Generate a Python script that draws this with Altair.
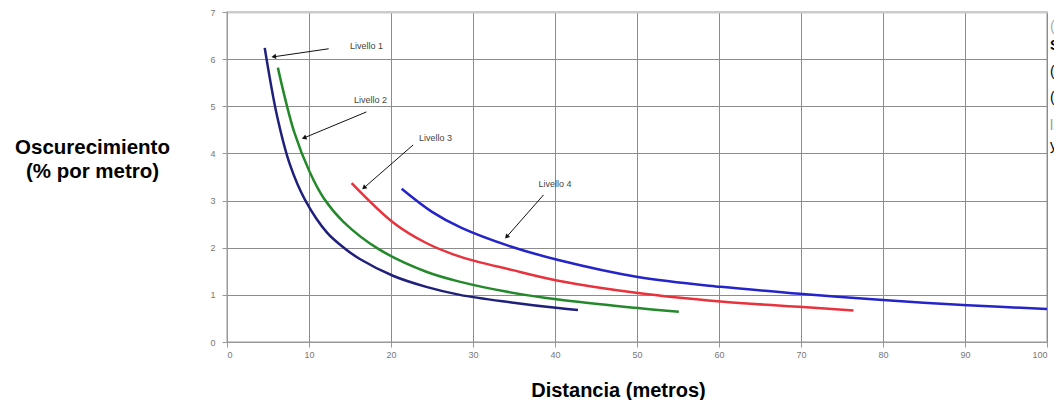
import math
import altair as alt
import pandas as pd

# ---- data ----
x_ticks = [0, 10, 20, 30, 40, 50, 60, 70, 80, 90, 100]
y_ticks = [0, 1, 2, 3, 4, 5, 6, 7]

series = ["Livello 1", "Livello 2", "Livello 3", "Livello 4"]
colors = ["#1f1f7c", "#23892a", "#e8323c", "#2424c8"]

l1_x = [4.6, 6.1, 7.7, 9.5, 12.2, 14.4, 16.2, 20.3, 24.3, 28.4, 34.7, 40.4, 42.8]
l1_y = [6.24, 4.8, 3.75, 3.02, 2.32, 1.98, 1.76, 1.4, 1.17, 1.0, 0.84, 0.72, 0.68]

l2_x = [6.2, 8.2, 10.1, 11.8, 14.2, 18.5, 24.3, 28.6, 34.0, 40.4, 50.1, 55.1]
l2_y = [5.82, 4.45, 3.6, 3.05, 2.55, 1.97, 1.49, 1.27, 1.07, 0.9, 0.72, 0.64]

l3_x = [15.2, 20.3, 24.3, 28.6, 34.7, 40.4, 50.1, 60.2, 70.2, 76.4]
l3_y = [3.37, 2.53, 2.1, 1.8, 1.53, 1.3, 1.04, 0.86, 0.74, 0.67]

l4_x = [21.3, 25.0, 28.6, 34.7, 40.4, 50.1, 60.2, 70.2, 80.0, 90.3, 100.0]
l4_y = [3.25, 2.76, 2.42, 2.02, 1.74, 1.38, 1.17, 1.02, 0.89, 0.78, 0.70]

label_x = [15.0, 15.5, 23.4, 38.0]
label_y = [6.28, 5.14, 4.33, 3.35]
tail_x = [12.4, 17.0, 22.7, 38.6]
tail_y = [6.22, 4.88, 4.18, 3.12]
head_x = [5.7, 9.4, 16.7, 34.1]
head_y = [6.05, 4.33, 3.27, 2.23]

# ---- tables ----
rows = []
for name, xs_, ys_ in zip(series, [l1_x, l2_x, l3_x, l4_x], [l1_y, l2_y, l3_y, l4_y]):
    for i, (a, b) in enumerate(zip(xs_, ys_)):
        rows.append({"serie": name, "x": a, "y": b, "i": i})
df = pd.DataFrame(rows)

W, H = 820, 330
kx = W / 100.0
ky = H / 7.0
angles = []
for tx, ty, hx, hy in zip(tail_x, tail_y, head_x, head_y):
    a = math.degrees(math.atan2((hx - tx) * kx, (hy - ty) * ky)) % 360
    angles.append(a)

ann = pd.DataFrame({
    "label": series, "lx": label_x, "ly": label_y,
    "tx": tail_x, "ty": tail_y, "hx": head_x, "hy": head_y, "ang": angles,
})

FONT = "Liberation Sans"
xs = alt.Scale(domain=[0, 100], nice=False)
ys = alt.Scale(domain=[0, 7], nice=False)

x_axis = alt.Axis(
    values=x_ticks, title="Distancia (metros)", titleFont=FONT, titleFontSize=20,
    titleFontWeight="bold", titleColor="#000", titleX=391, titleY=54,
    titleAlign="center", titleBaseline="alphabetic",
    labelFont=FONT, labelFontSize=9, labelColor="#777", labelPadding=3,
    tickSize=5, tickColor="#999", domainColor="#999",
    gridColor="#8c8c8c", gridWidth=1,
)
y_axis = alt.Axis(
    values=y_ticks, title=["Oscurecimiento", "(% por metro)"], titleFont=FONT,
    titleFontSize=20.5, titleFontWeight="bold", titleColor="#000", titleAngle=0,
    titleAlign="center", titleBaseline="top", titleX=-135, titleY=125,
    titleLineHeight=24,
    labelFont=FONT, labelFontSize=9, labelColor="#777", labelPadding=7,
    tickSize=5, tickColor="#999", domainColor="#999",
    gridColor={"condition": {"test": "datum.value >= 7", "value": "#cccccc"}, "value": "#8c8c8c"},
    gridWidth={"condition": {"test": "datum.value >= 7", "value": 2}, "value": 1},
)

lines = alt.Chart(df).mark_line(strokeWidth=2.5, interpolate="catmull-rom").encode(
    x=alt.X("x:Q", scale=xs, axis=x_axis),
    y=alt.Y("y:Q", scale=ys, axis=y_axis),
    color=alt.Color("serie:N", scale=alt.Scale(domain=series, range=colors), legend=None),
    order="i:Q",
)

base = alt.Chart(ann)
arrows = base.mark_rule(color="#111", strokeWidth=1).encode(
    x=alt.X("tx:Q", scale=xs), y=alt.Y("ty:Q", scale=ys),
    x2="hx:Q", y2="hy:Q",
)
heads = base.mark_point(shape="triangle-up", filled=True, color="#111", size=28, opacity=1).encode(
    x=alt.X("hx:Q", scale=xs), y=alt.Y("hy:Q", scale=ys),
    angle=alt.Angle("ang:Q", scale=None),
)
labels = base.mark_text(font=FONT, fontSize=9, color="#444", align="left", baseline="middle").encode(
    x=alt.X("lx:Q", scale=xs), y=alt.Y("ly:Q", scale=ys), text="label:N",
)

# cut-off text at the right edge of the picture
edge_chars = [("(", "#aaaaaa", "normal", 15), ("S", "#000000", "bold", 34),
              ("(", "#000000", "normal", 60), ("(", "#000000", "normal", 86),
              ("l", "#999999", "normal", 114), ("y", "#000000", "normal", 134)]
edge_layers = []
for ch, col, wt, yy in edge_chars:
    edge_layers.append(
        alt.Chart(pd.DataFrame({"t": [ch]})).mark_text(
            font=FONT, fontSize=14, color=col, fontWeight=wt, align="left", baseline="middle"
        ).encode(x=alt.value(823), y=alt.value(yy), text="t:N")
    )

chart = alt.layer(lines, arrows, heads, labels, *edge_layers).properties(
    width=W, height=H,
    padding={"left": 219, "top": 4, "right": 7, "bottom": 58},
    autosize=alt.AutoSizeParams(type="none"),
    background="white",
).configure_view(stroke="#bbbbbb", strokeWidth=1.5)

chart.save("out.html", embed_options={"renderer": "svg", "actions": False})
